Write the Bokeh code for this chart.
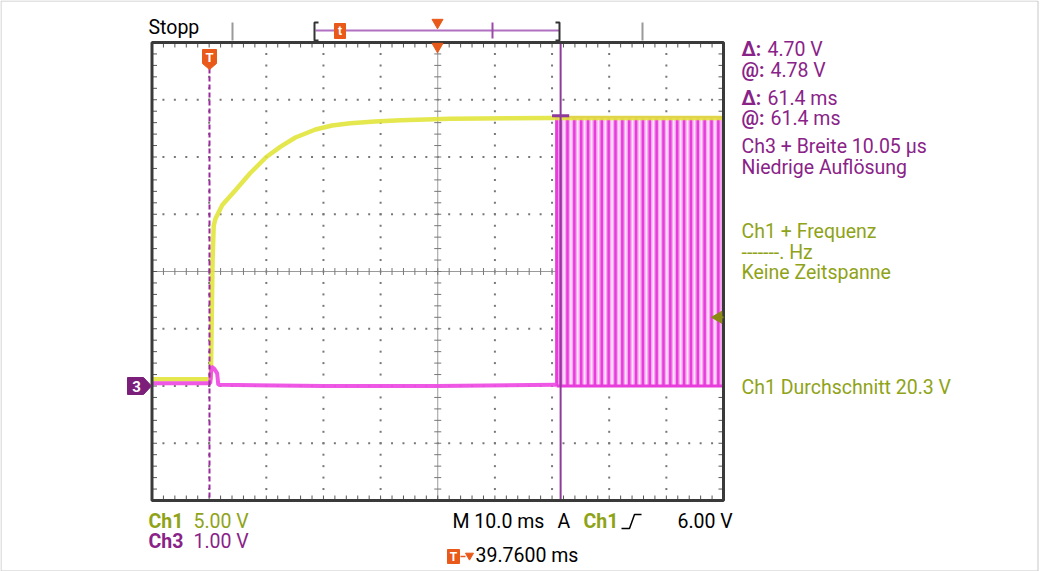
import numpy as np
from bokeh.plotting import figure
from bokeh.models import Range1d
from bokeh.core.properties import value
from bokeh.embed import file_html
from bokeh.resources import INLINE

# ---------------- data ----------------
# Ch1 (yellow), volts vs time in ms from left screen edge
ch1_t = [0, 10.3, 10.6, 10.8, 11.1, 12.3, 14.6, 17.2, 20.0, 22.5, 25.1, 28.6, 31.5, 34.7, 39.0, 43.5, 52.2, 69.7, 100]
ch1_v = [0.6, 0.6, 11.0, 14.0, 14.6, 15.8, 17.1, 18.6, 20.0, 20.9, 21.7, 22.4, 22.75, 22.95, 23.1, 23.2, 23.35, 23.4, 23.4]
# Ch3 (magenta), volts
ch3_t = [0, 10.2, 10.4, 10.9, 11.4, 11.6, 30.0, 50.0, 70.8]
ch3_v = [0.05, 0.05, 0.34, 0.30, 0.22, 0.02, 0.0, 0.0, 0.02]
ch3_high = 4.70
pwm_start = 70.8
pwm_times = [71.5, 72.7, 73.9, 75.1, 76.3, 77.5, 78.7, 79.9, 81.1, 82.3, 83.5, 84.7,
             85.9, 87.1, 88.3, 89.5, 90.7, 91.9, 93.1, 94.3, 95.5, 96.7, 97.9, 99.1]
trigger_t = 10.06
cursor_t = 71.5
cursor_v = 4.72
trig_level_ch1 = 6.0
trig_offset_ms = 39.76

ch1_scale = 5.0   # V/div
ch3_scale = 1.0   # V/div
time_scale = 10.0  # ms/div

meas_purple = ["4.70 V", "4.78 V", "61.4 ms", "61.4 ms"]
meas_purple_lbl = ["Δ:", "@:", "Δ:", "@:"]
meas_purple2 = ["Ch3 + Breite 10.05 µs", "Niedrige Auflösung"]
meas_olive = ["Ch1 + Frequenz", "-------. Hz", "Keine Zeitspanne", "Ch1 Durchschnitt 20.3 V"]

# ---------------- layout helpers (image pixel -> data) ----------------
X0, PXMS = 151.5, 5.715     # image x of t=0, px per ms
Y0, PXV = 385.5, 57.25      # image y of 0 V (Ch3), px per V
def X(px): return (px - X0) / PXMS
def Y(py): return (Y0 - py) / PXV

W, H = 1040, 571
p = figure(width=W, height=H, output_backend="svg", toolbar_location=None,
           x_range=Range1d(X(0), X(W)), y_range=Range1d(Y(H), Y(0)),
           x_axis_location=None, y_axis_location=None, min_border=0,
           background_fill_color="white", border_fill_color="white")
p.outline_line_color = None
p.xgrid.visible = False
p.ygrid.visible = False
p.extra_y_ranges = {"ch1": Range1d(Y(H) * ch1_scale, Y(0) * ch1_scale)}

FONT = value("'Liberation Sans Narrow', Roboto, sans-serif")
FS = "19.5px"
PURPLE = "#8a2388"
OLIVE = "#8fa318"
ORANGE = "#e8591a"

# image border
p.quad(left=[X(0.5)], right=[X(W - 2.5)], bottom=[Y(H - 0.5)], top=[Y(0.5)], fill_color=None,
       line_color="#c8c8c8", line_width=1)

# ---------------- graticule ----------------
tmin, tmax, vmin, vmax = 0, 100, -2, 6
dx, dy = [], []
for t in range(10, 100, 10):
    if t == 50:
        continue
    for v in np.arange(vmin + 0.2, vmax - 0.1, 0.2):
        dx.append(t); dy.append(v)
for v in [-1, 0, 1, 3, 4, 5]:
    for t in np.arange(2, 99, 2):
        dx.append(t); dy.append(v)
p.scatter(dx, dy, marker="square", size=2, color="#777777", line_color=None)

# center cross with ticks
p.segment(x0=[tmin, 50], y0=[2, vmin], x1=[tmax, 50], y1=[2, vmax], line_color="#9a9a9a", line_width=1)
tk = np.arange(2, 99, 2)
p.segment(x0=tk, y0=[2 - 3.5 / PXV] * len(tk), x1=tk, y1=[2 + 3.5 / PXV] * len(tk), line_color="#777777", line_width=1)
vk = np.arange(vmin + 0.2, vmax - 0.1, 0.2)
p.segment(x0=[50 - 3.5 / PXMS] * len(vk), y0=vk, x1=[50 + 3.5 / PXMS] * len(vk), y1=vk, line_color="#777777", line_width=1)
# border ticks
L = 5
p.segment(x0=tk, y0=[vmax] * len(tk), x1=tk, y1=[vmax - L / PXV] * len(tk), line_color="#555555")
p.segment(x0=tk, y0=[vmin] * len(tk), x1=tk, y1=[vmin + L / PXV] * len(tk), line_color="#555555")
p.segment(x0=[tmin] * len(vk), y0=vk, x1=[tmin + L / PXMS] * len(vk), y1=vk, line_color="#555555")
p.segment(x0=[tmax] * len(vk), y0=vk, x1=[tmax - L / PXMS] * len(vk), y1=vk, line_color="#555555")

# ---------------- traces ----------------
# PWM region of Ch3
p.quad(left=[pwm_start], right=[tmax], bottom=[0], top=[ch3_high], fill_color="#f7a6f0", line_color=None)
mids = [t + 0.6 for t in pwm_times[:-1]]
p.segment(x0=mids, y0=[0] * len(mids), x1=mids, y1=[ch3_high] * len(mids), line_color="#fde6fb", line_width=1.5)
p.segment(x0=pwm_times, y0=[0] * len(pwm_times), x1=pwm_times, y1=[ch3_high] * len(pwm_times),
          line_color="#e83ddc", line_width=2.5)
p.segment(x0=[pwm_start], y0=[0], x1=[pwm_start], y1=[ch3_high], line_color="#e83ddc", line_width=3)
p.segment(x0=[pwm_start], y0=[ch3_high], x1=[tmax], y1=[ch3_high], line_color="#e83ddc", line_width=2)
p.segment(x0=[pwm_start], y0=[0], x1=[tmax], y1=[0], line_color="#e83ddc", line_width=3)

# Ch1 yellow
p.line(ch1_t, ch1_v, y_range_name="ch1", line_color="#e1e43a", line_width=4.5, line_alpha=0.9)
# Ch3 magenta
p.line(ch3_t, ch3_v, line_color="#ee4ee4", line_width=4, line_alpha=0.95)

# trigger dashed line
p.segment(x0=[trigger_t], y0=[Y(68)], x1=[trigger_t], y1=[vmin], line_color="#9b2a9b", line_width=2, line_dash="5 3")
# cursor lines
p.segment(x0=[cursor_t], y0=[vmax], x1=[cursor_t], y1=[vmin], line_color="#8d3a9a", line_width=2)
p.segment(x0=[cursor_t - 1.5], y0=[cursor_v], x1=[cursor_t + 1.5], y1=[cursor_v], line_color="#8d3a9a", line_width=3)

# frame border
p.quad(left=[tmin], right=[tmax], bottom=[vmin], top=[vmax], fill_color=None, line_color="#3a3a3a", line_width=3)

# ---------------- markers ----------------
# trigger T marker
p.patch([X(202), X(216), X(216), X(209), X(202)], [Y(49), Y(49), Y(63), Y(69), Y(63)], color=ORANGE)
p.text([X(209)], [Y(57)], text=["T"], text_color="white", text_font=FONT, text_font_style="bold",
       text_font_size="13px", text_align="center", text_baseline="middle")
# horizontal position markers
p.scatter([X(437), X(437)], [Y(22), Y(46)], marker="inverted_triangle", size=11, color=ORANGE)
# trigger level marker (Ch1)
p.scatter([100 - 0.9], [trig_level_ch1], y_range_name="ch1", marker="triangle", angle=np.pi / 2,
          size=12, color="#8c8a14")
p.segment(x0=[100 - 1.2], y0=[trig_level_ch1], x1=[100], y1=[trig_level_ch1], y_range_name="ch1",
          line_color="#8c8a14", line_width=2)
# channel 3 ground marker
p.patch([X(127), X(143), X(151), X(143), X(127)], [Y(377), Y(377), Y(385.5), Y(394), Y(394)], color="#7b1f7b")
p.text([X(136)], [Y(386)], text=["3"], text_color="white", text_font=FONT, text_font_style="bold",
       text_font_size="15px", text_align="center", text_baseline="middle")

# ---------------- top bar ----------------
p.text([X(148)], [Y(27)], text=["Stopp"], text_color="black", text_font=FONT, text_font_size=FS,
       text_baseline="middle")
p.segment(x0=[X(232), X(642)], y0=[Y(22), Y(22)], x1=[X(232), X(642)], y1=[Y(40), Y(40)], line_color="#9a9a9a", line_width=2)
p.segment(x0=[X(315)], y0=[Y(30)], x1=[X(559)], y1=[Y(30)], line_color="#b071c0", line_width=2)
p.segment(x0=[X(492)], y0=[Y(22)], x1=[X(492)], y1=[Y(38)], line_color="#9b4aa8", line_width=2)
p.multi_line([[X(318), X(314), X(314), X(318)], [X(555), X(559), X(559), X(555)]],
             [[Y(22), Y(22), Y(40), Y(40)], [Y(22), Y(22), Y(40), Y(40)]], line_color="#333333", line_width=2)
p.patch([X(334), X(345), X(345), X(334)], [Y(23), Y(23), Y(38), Y(38)], color=ORANGE)
p.text([X(339.5)], [Y(30.5)], text=["t"], text_color="white", text_font=FONT, text_font_style="bold",
       text_font_size="12px", text_align="center", text_baseline="middle")

# ---------------- measurement panel ----------------
ys_p = [49, 70, 98, 118]
p.text([X(741)] * 4, [Y(y) for y in ys_p], text=meas_purple_lbl, text_color=PURPLE, text_font=FONT,
       text_font_style="bold", text_font_size=FS, text_baseline="middle")
p.text([X(767), X(770), X(767), X(770)], [Y(y) for y in ys_p], text=meas_purple, text_color=PURPLE, text_font=FONT,
       text_font_size=FS, text_baseline="middle")
p.text([X(741)] * 2, [Y(146), Y(167)], text=meas_purple2, text_color=PURPLE, text_font=FONT,
       text_font_size=FS, text_baseline="middle")
p.text([X(741)] * 4, [Y(231), Y(252), Y(272), Y(387)], text=meas_olive, text_color=OLIVE, text_font=FONT,
       text_font_size=FS, text_baseline="middle")

# ---------------- bottom readouts ----------------
p.text([X(148)], [Y(521)], text=["Ch1"], text_color=OLIVE, text_font=FONT, text_font_style="bold",
       text_font_size=FS, text_baseline="middle")
p.text([X(193)], [Y(521)], text=[f"{ch1_scale:.2f} V"], text_color=OLIVE, text_font=FONT,
       text_font_size=FS, text_baseline="middle")
p.text([X(148)], [Y(541)], text=["Ch3"], text_color=PURPLE, text_font=FONT, text_font_style="bold",
       text_font_size=FS, text_baseline="middle")
p.text([X(193)], [Y(541)], text=[f"{ch3_scale:.2f} V"], text_color=PURPLE, text_font=FONT,
       text_font_size=FS, text_baseline="middle")
p.text([X(452), X(557), X(677)], [Y(521)] * 3, text=[f"M {time_scale:.1f} ms", "A", f"{trig_level_ch1:.2f} V"],
       text_color="black", text_font=FONT, text_font_size=FS, text_baseline="middle")
p.text([X(583)], [Y(521)], text=["Ch1"], text_color=OLIVE, text_font=FONT, text_font_style="bold",
       text_font_size=FS, text_baseline="middle")
p.line([X(621), X(629), X(634), X(641)], [Y(528), Y(528), Y(514), Y(514)], line_color="black", line_width=1.5)
# trigger offset readout
p.patch([X(447), X(459), X(459), X(447)], [Y(549), Y(549), Y(563), Y(563)], color=ORANGE)
p.text([X(453)], [Y(556)], text=["T"], text_color="white", text_font=FONT, text_font_style="bold",
       text_font_size="12px", text_align="center", text_baseline="middle")
p.segment(x0=[X(460)], y0=[Y(556)], x1=[X(465)], y1=[Y(556)], line_color=ORANGE, line_width=1.5)
p.scatter([X(469)], [Y(555)], marker="inverted_triangle", size=8, color=ORANGE)
p.text([X(475)], [Y(555)], text=[f"{trig_offset_ms:.4f} ms"], text_color="black", text_font=FONT,
       text_font_size=FS, text_baseline="middle")

open("out.html", "w").write(file_html(p, INLINE))
